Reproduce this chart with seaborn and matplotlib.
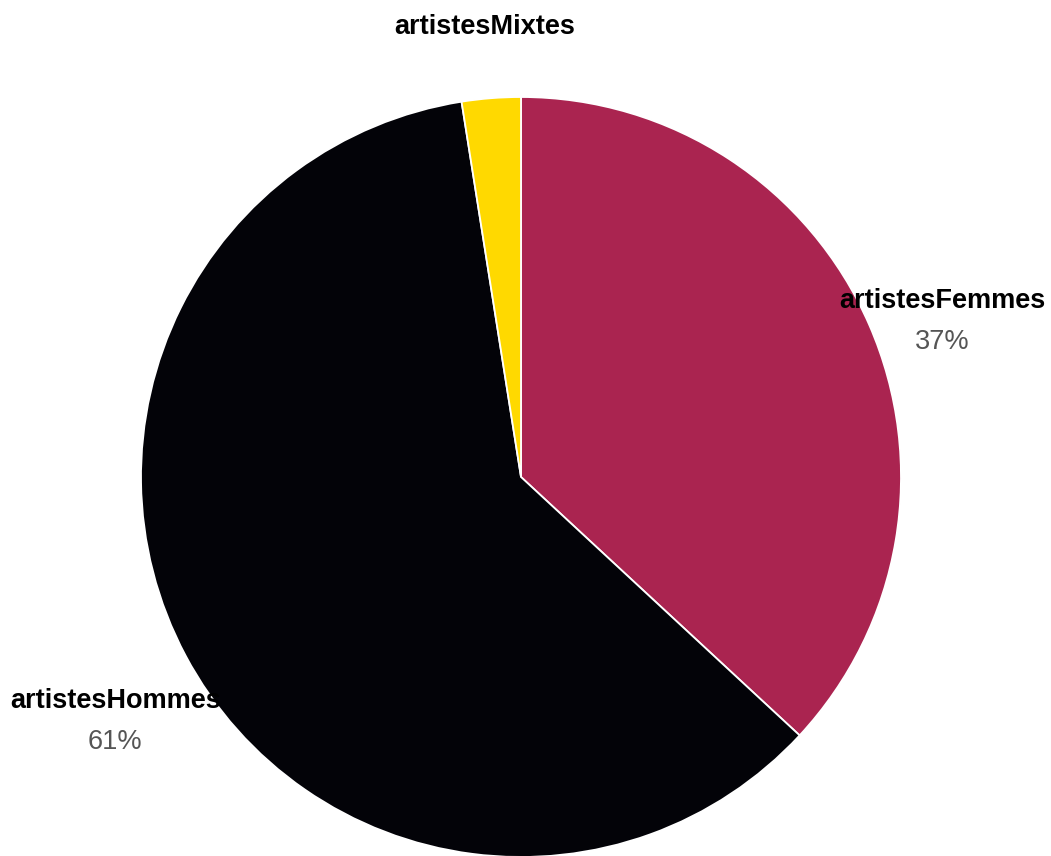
import matplotlib
matplotlib.use("Agg")
import matplotlib.pyplot as plt
import numpy as np
import seaborn as sns

# Share of artists by gender
categories = ["artistesFemmes", "artistesHommes", "artistesMixtes"]
values = [36.9, 60.6, 2.5]
colors = ["#AA2450", "#030308", "#FFD900"]

sns.set_theme(style="white")
plt.rcParams["font.family"] = ["Liberation Sans", "DejaVu Sans"]

W, H, DPI = 1051, 856, 100
fig = plt.figure(figsize=(W / DPI, H / DPI), dpi=DPI)
ax = fig.add_axes([0, 0, 1, 1])

cx, cy, r = 521, H - 477, 380
wedges, _ = ax.pie(
    values,
    colors=colors,
    startangle=90,
    counterclock=False,
    center=(cx, cy),
    radius=r,
    wedgeprops=dict(edgecolor="white", linewidth=1.3),
    frame=True,
)
ax.set_xlim(0, W)
ax.set_ylim(0, H)
ax.set_aspect("equal")
ax.axis("off")

total = sum(values)
for w, name, v in zip(wedges, categories, values):
    mid = np.deg2rad((w.theta1 + w.theta2) / 2)
    x = cx + 1.21 * r * np.cos(mid)
    y = cy + 1.21 * r * np.sin(mid) - 8
    ax.text(x, y, name, ha="center", va="center", fontsize=19.5,
            fontweight="bold", color="#000000", zorder=5)
    pct = 100 * v / total
    if pct >= 5:
        ax.text(x, y - 41, f"{pct:.0f}%", ha="center", va="center",
                fontsize=19.5, color="#555555", zorder=5)

fig.savefig("out.png", dpi=DPI)
